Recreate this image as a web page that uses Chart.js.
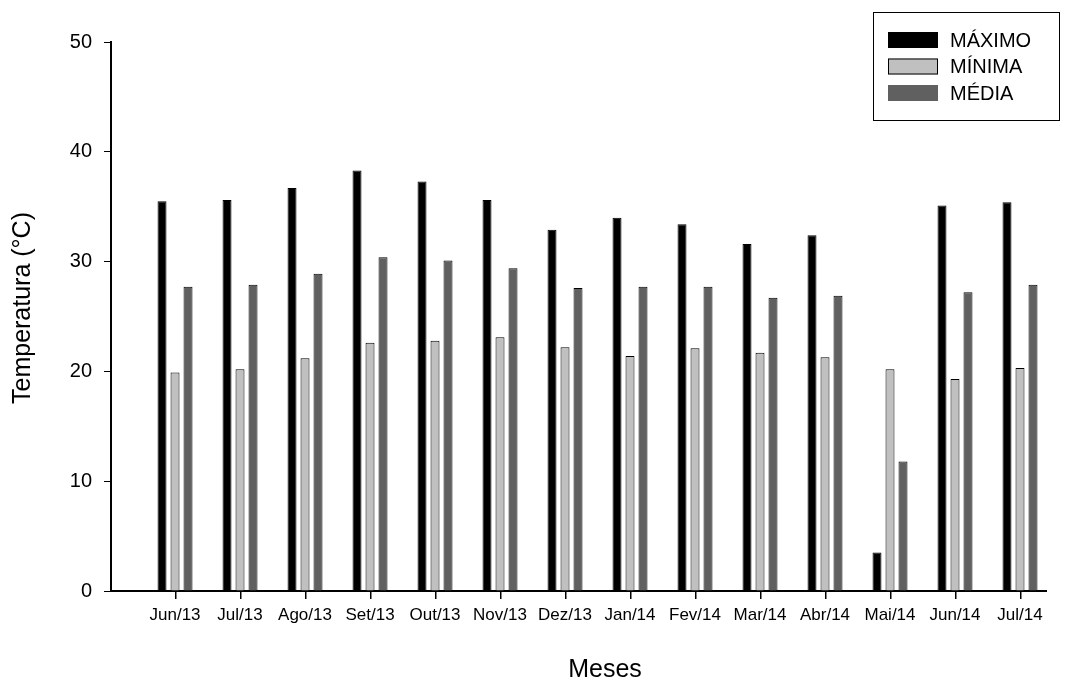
<!DOCTYPE html>
<html>
<head>
<meta charset="utf-8">
<script src="https://cdn.jsdelivr.net/npm/chart.js@4.4.1/dist/chart.umd.min.js"></script>
<style>
  html, body { margin: 0; padding: 0; background: #fff; }
  canvas { display: block; }
</style>
</head>
<body>
<canvas id="grafico" width="1085" height="682"></canvas>
<script>
// Temperaturas mensais (°C)
const meses = ["Jun/13", "Jul/13", "Ago/13", "Set/13", "Out/13", "Nov/13", "Dez/13",
               "Jan/14", "Fev/14", "Mar/14", "Abr/14", "Mai/14", "Jun/14", "Jul/14"];
const maximo = [35.5, 35.6, 36.7, 38.3, 37.3, 35.6, 32.9, 34.0, 33.4, 31.6, 32.4, 3.5, 35.1, 35.4];
const minima = [19.9, 20.2, 21.2, 22.6, 22.8, 23.1, 22.2, 21.4, 22.1, 21.7, 21.3, 20.2, 19.3, 20.3];
const media  = [27.7, 27.9, 28.9, 30.4, 30.1, 29.4, 27.6, 27.7, 27.7, 26.7, 26.9, 11.8, 27.2, 27.9];
const yTicks = [0, 10, 20, 30, 40, 50];

const FONTE = "'Liberation Sans', Arial, sans-serif";

function pontos(valores) {
    return valores.map((v, i) => ({ x: i, y: v }));
}

// legenda com moldura no canto superior direito
const legendaCaixa = {
    id: "legendaCaixa",
    afterDraw(chart) {
        const ctx = chart.ctx;
        ctx.save();
        ctx.strokeStyle = "#000";
        ctx.lineWidth = 1;
        ctx.strokeRect(873.5, 12.5, 186, 108);
        ctx.font = "20px " + FONTE;
        ctx.textBaseline = "middle";
        chart.data.datasets.forEach((ds, i) => {
            const cy = 40 + i * 26.5;
            ctx.fillStyle = ds.backgroundColor;
            ctx.fillRect(888, cy - 8, 50, 16);
            if (i < 2) ctx.strokeRect(888.5, cy - 7.5, 49, 15);
            ctx.fillStyle = "#000";
            ctx.fillText(ds.label, 950, cy + 1);
        });
        ctx.restore();
    }
};

// títulos dos eixos e marcas dos meses no eixo x
const titulosEixos = {
    id: "titulosEixos",
    afterDraw(chart) {
        const ctx = chart.ctx;
        const x = chart.scales.x;
        const base = chart.chartArea.bottom;
        ctx.save();
        ctx.fillStyle = "#000";
        meses.forEach((_, i) => {
            const px = Math.round(x.getPixelForValue(i));
            ctx.fillRect(px, base + 1, 1.5, 7);
        });
        ctx.font = "25px " + FONTE;
        ctx.textAlign = "center";
        ctx.textBaseline = "middle";
        ctx.fillText("Meses", 605, 670);
        ctx.translate(23, 308);
        ctx.rotate(-Math.PI / 2);
        ctx.fillText("Temperatura (°C)", 0, 0);
        ctx.restore();
    }
};

new Chart(document.getElementById("grafico"), {
    type: "bar",
    data: {
        datasets: [
            { label: "MÁXIMO", data: pontos(maximo), backgroundColor: "#000000" },
            { label: "MÍNIMA", data: pontos(minima), backgroundColor: "#c0c0c0" },
            { label: "MÉDIA",  data: pontos(media),  backgroundColor: "#606060" }
        ]
    },
    options: {
        responsive: false,
        animation: false,
        devicePixelRatio: 1,
        layout: { padding: { top: 42, right: 39, bottom: 0, left: 0 } },
        datasets: {
            bar: {
                borderColor: "#000",
                borderWidth: 1,
                categoryPercentage: 0.6,
                barPercentage: 0.69
            }
        },
        plugins: {
            legend: { display: false },
            tooltip: { enabled: false }
        },
        scales: {
            x: {
                type: "linear",
                offset: false,
                min: -0.985,
                max: 13.4,
                afterBuildTicks: (scale) => {
                    scale.ticks = meses.map((_, i) => ({ value: i }));
                },
                afterFit: (scale) => { scale.height = 91; },
                grid: {
                    offset: false,
                    drawOnChartArea: false,
                    tickLength: 7,
                    tickColor: "#000",
                    tickWidth: 1
                },
                border: { color: "#000", width: 2 },
                ticks: {
                    autoSkip: false,
                    maxRotation: 0,
                    padding: 7,
                    color: "#000",
                    font: { family: FONTE, size: 17 },
                    callback: (v) => meses[v]
                }
            },
            y: {
                min: 0,
                max: 50,
                afterBuildTicks: (scale) => {
                    scale.ticks = yTicks.map(v => ({ value: v }));
                },
                afterFit: (scale) => { scale.width = 111; },
                grid: {
                    drawOnChartArea: false,
                    tickLength: 7,
                    tickColor: "#000",
                    tickWidth: 1
                },
                border: { color: "#000", width: 2 },
                ticks: {
                    padding: 12,
                    color: "#000",
                    font: { family: FONTE, size: 20 }
                }
            }
        }
    },
    plugins: [legendaCaixa, titulosEixos]
});
</script>
</body>
</html>
